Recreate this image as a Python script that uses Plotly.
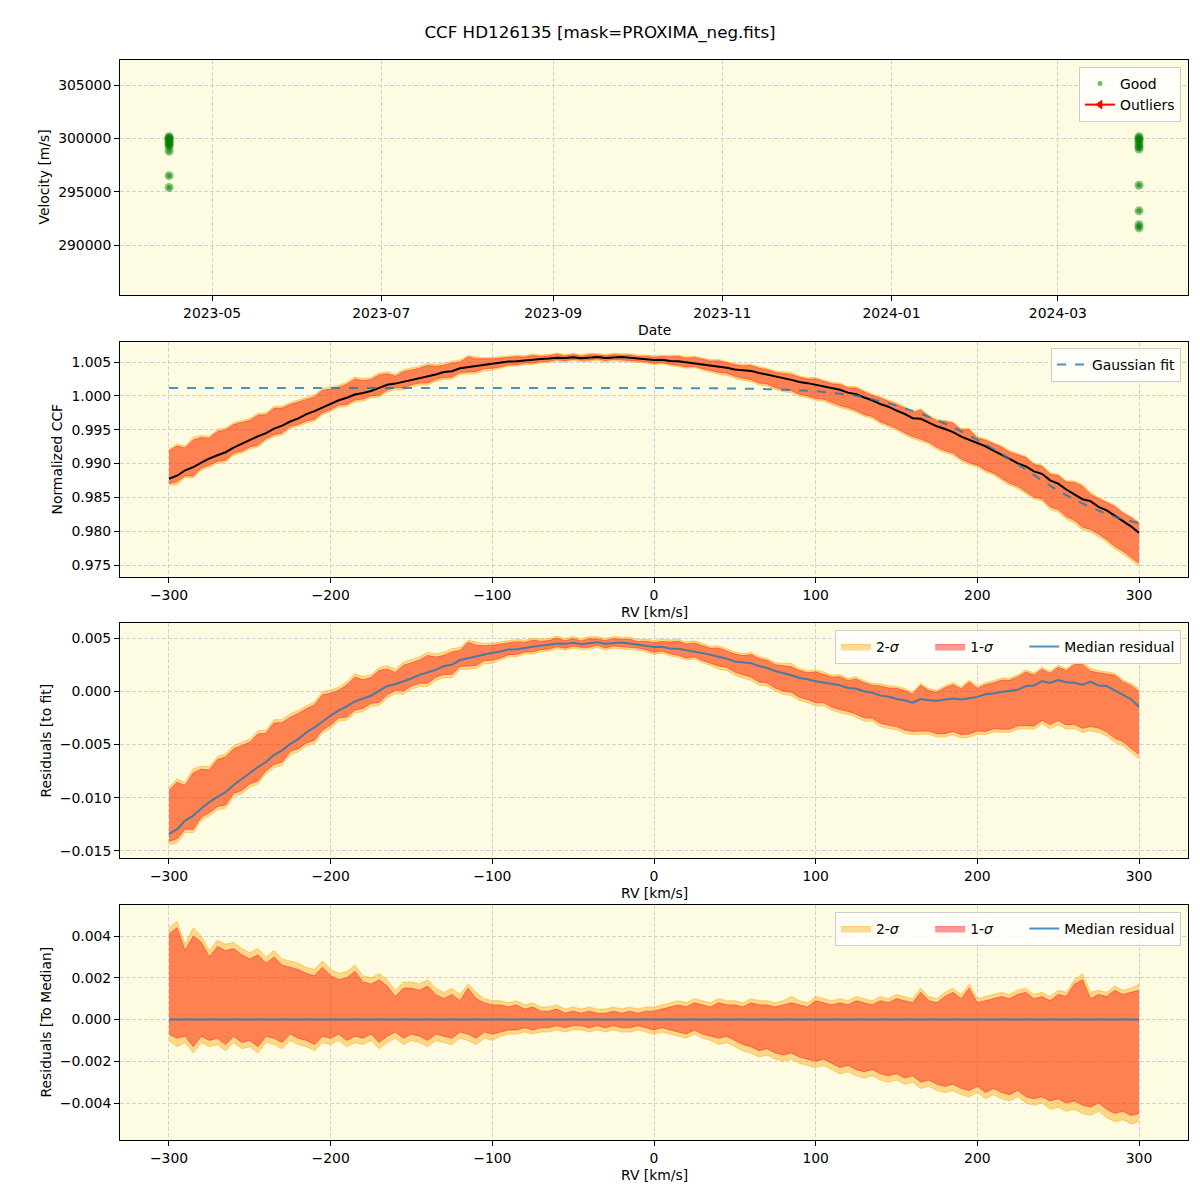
import numpy as np
import plotly.graph_objects as go

TITLE = "CCF HD126135 [mask=PROXIMA_neg.fits]"

# --- top panel: velocities of the individual exposures (two nights)
night1_date = "2023-04-15 12:00"
night1_rv = [300150, 300050, 299950, 299850, 299700, 299550, 299400, 299250, 298800, 296500, 295400]
night2_date = "2024-03-30 06:00"
night2_rv = [300150, 300000, 299850, 299650, 299400, 299200, 299000, 295600, 293200, 291900, 291600]

# --- CCF grid (km/s)
rv = np.arange(-300, 301, 5)

# gaussian fit to the median CCF
gauss_fit = np.array([
    1.00115, 1.00115, 1.00115, 1.00115, 1.00115, 1.00115, 1.00115, 1.00115, 1.00115, 1.00115,
    1.00115, 1.00115, 1.00115, 1.00115, 1.00115, 1.00115, 1.00115, 1.00115, 1.00115, 1.00115,
    1.00115, 1.00115, 1.00115, 1.00115, 1.00115, 1.00115, 1.00115, 1.00115, 1.00115, 1.00115,
    1.00115, 1.00115, 1.00115, 1.00115, 1.00115, 1.00115, 1.00115, 1.00115, 1.00115, 1.00115,
    1.00115, 1.00115, 1.00115, 1.00115, 1.00115, 1.00115, 1.00115, 1.00115, 1.00115, 1.00115,
    1.00115, 1.00115, 1.00115, 1.00115, 1.00115, 1.00115, 1.00115, 1.00115, 1.00115, 1.00115,
    1.00115, 1.00115, 1.00115, 1.00114, 1.00114, 1.00113, 1.00113, 1.00112, 1.00111, 1.00110,
    1.00109, 1.00107, 1.00105, 1.00102, 1.00099, 1.00095, 1.00091, 1.00086, 1.00081, 1.00075,
    1.00068, 1.00058, 1.00046, 1.00032, 1.00017, 1.00000, 0.99976, 0.99949, 0.99920, 0.99889,
    0.99855, 0.99818, 0.99778, 0.99735, 0.99689, 0.99640, 0.99588, 0.99533, 0.99475, 0.99414,
    0.99350, 0.99283, 0.99213, 0.99140, 0.99065, 0.98988, 0.98910, 0.98831, 0.98752, 0.98674,
    0.98597, 0.98532, 0.98470, 0.98411, 0.98356, 0.98305, 0.98258, 0.98216, 0.98179, 0.98147,
    0.98120,
])

# median CCF minus the gaussian fit
resid_fit = np.array([
    -0.01340, -0.01295, -0.01215, -0.01168, -0.01102, -0.01040, -0.00992, -0.00948, -0.00880, -0.00822,
    -0.00770, -0.00712, -0.00665, -0.00598, -0.00555, -0.00494, -0.00449, -0.00385, -0.00340, -0.00283,
    -0.00228, -0.00180, -0.00142, -0.00095, -0.00072, -0.00042, 0.00004, 0.00050, 0.00066, 0.00092,
    0.00120, 0.00154, 0.00176, 0.00201, 0.00237, 0.00249, 0.00293, 0.00310, 0.00332, 0.00348,
    0.00362, 0.00373, 0.00393, 0.00395, 0.00409, 0.00420, 0.00430, 0.00436, 0.00449, 0.00445,
    0.00455, 0.00442, 0.00454, 0.00461, 0.00446, 0.00455, 0.00458, 0.00448, 0.00436, 0.00430,
    0.00416, 0.00418, 0.00402, 0.00399, 0.00383, 0.00374, 0.00358, 0.00343, 0.00327, 0.00306,
    0.00280, 0.00275, 0.00264, 0.00237, 0.00218, 0.00190, 0.00171, 0.00150, 0.00124, 0.00113,
    0.00093, 0.00081, 0.00062, 0.00057, 0.00031, 0.00025, 0.00000, -0.00014, -0.00041, -0.00049,
    -0.00072, -0.00084, -0.00108, -0.00074, -0.00084, -0.00090, -0.00078, -0.00068, -0.00078, -0.00062,
    -0.00053, -0.00028, -0.00022, -0.00006, 0.00003, 0.00015, 0.00049, 0.00053, 0.00096, 0.00077,
    0.00105, 0.00084, 0.00080, 0.00062, 0.00088, 0.00054, 0.00049, 0.00010, -0.00032, -0.00075,
    -0.00145,
])

# percentile envelopes relative to the median, in units of 1e-4
hi2 = np.array([
    44, 47, 36, 44, 40, 33, 38, 36, 37, 34,
    32, 34, 30, 33, 29, 28, 27, 25, 24, 28,
    24, 22, 23, 26, 21, 20, 22, 19, 14, 18,
    18, 17, 19, 15, 13, 15, 12, 17, 13, 10,
    9, 9, 8, 9, 7, 8, 6, 6, 7, 5,
    6, 5, 6, 5, 5, 6, 5, 6, 5, 6,
    6, 7, 8, 9, 8, 10, 9, 8, 10, 9,
    9, 8, 10, 9, 9, 8, 9, 11, 9, 8,
    11, 10, 9, 10, 9, 11, 10, 9, 11, 10,
    12, 11, 10, 15, 11, 10, 13, 15, 12, 17,
    10, 11, 12, 13, 12, 14, 15, 12, 13, 11,
    14, 13, 19, 22, 13, 14, 13, 16, 14, 15,
    17,
]) * 1e-4
hi1 = np.array([
    41, 44, 33, 40, 37, 30, 35, 33, 34, 31,
    29, 31, 27, 30, 26, 25, 24, 22, 21, 25,
    21, 19, 20, 23, 18, 17, 19, 16, 11, 15,
    15, 14, 16, 12, 10, 12, 9, 15, 10, 8,
    7, 7, 6, 7, 5, 6, 4, 4, 5, 3,
    4, 3, 4, 3, 3, 4, 3, 4, 3, 4,
    4, 5, 6, 7, 6, 8, 7, 6, 8, 7,
    7, 6, 8, 7, 7, 6, 7, 8, 7, 6,
    9, 8, 7, 8, 7, 9, 8, 7, 9, 8,
    10, 9, 8, 13, 9, 8, 11, 13, 10, 15,
    8, 9, 10, 11, 10, 12, 13, 10, 11, 9,
    12, 11, 17, 19, 10, 12, 11, 14, 12, 13,
    14,
]) * 1e-4
lo1 = np.array([
    -7, -9, -8, -13, -8, -10, -9, -12, -8, -11,
    -10, -13, -8, -9, -11, -7, -9, -10, -12, -8,
    -9, -7, -10, -8, -9, -7, -11, -8, -6, -9,
    -7, -8, -10, -7, -8, -9, -6, -7, -9, -6,
    -7, -6, -5, -5, -4, -5, -4, -4, -3, -4,
    -3, -3, -4, -3, -4, -3, -4, -4, -3, -4,
    -5, -4, -5, -6, -7, -5, -7, -8, -9, -8,
    -10, -12, -13, -15, -14, -16, -17, -16, -18, -19,
    -20, -19, -21, -23, -22, -24, -25, -24, -26, -27,
    -26, -28, -27, -30, -29, -31, -32, -31, -33, -34,
    -32, -35, -33, -35, -36, -34, -37, -38, -37, -39,
    -38, -40, -39, -41, -42, -40, -43, -45, -44, -46,
    -45,
]) * 1e-4
lo2 = np.array([
    -10, -13, -11, -16, -11, -13, -12, -15, -11, -14,
    -13, -16, -11, -12, -14, -10, -12, -13, -15, -11,
    -12, -10, -13, -11, -12, -10, -14, -11, -9, -12,
    -10, -11, -13, -10, -11, -12, -9, -10, -12, -9,
    -10, -8, -7, -7, -6, -7, -6, -6, -5, -6,
    -5, -5, -6, -5, -6, -5, -6, -6, -5, -6,
    -7, -6, -7, -8, -9, -7, -9, -10, -12, -11,
    -13, -15, -16, -18, -17, -19, -20, -19, -21, -22,
    -23, -22, -24, -26, -25, -27, -28, -27, -29, -30,
    -29, -31, -30, -33, -32, -34, -35, -34, -36, -37,
    -35, -38, -36, -38, -39, -37, -40, -41, -40, -43,
    -42, -44, -43, -45, -46, -44, -47, -49, -48, -50,
    -49,
]) * 1e-4

median_ccf = gauss_fit + resid_fit

BG = "#fdfbe2"
GRID = "#d0d0d8"
FONT = "DejaVu Sans"
FS = 13.9
BLUE = "rgba(31,119,180,0.8)"

# the page adds an 8px body margin, so work in reference pixels and shift
OFF = 8
W = 1192


def px_x(p):
    return (p - OFF) / W


def px_y(p):
    return 1 - (p - OFF) / W


fig = go.Figure()

# panel 1
dates = [night1_date] * len(night1_rv) + [night2_date] * len(night2_rv)
good = night1_rv + night2_rv
fig.add_trace(go.Scatter(x=dates, y=good, mode="markers", showlegend=False,
                         marker=dict(size=9, color="rgba(0,128,0,0.45)", line=dict(width=0))))
fig.add_trace(go.Scatter(x=dates, y=good, mode="markers", name="Good",
                         marker=dict(size=5, color="rgba(0,128,0,0.55)", line=dict(width=0))))
fig.add_trace(go.Scatter(x=[None], y=[None], mode="lines+markers", name="Outliers",
                         line=dict(color="red", width=2),
                         marker=dict(symbol="triangle-left", size=9, color="red")))

PAD = "\u00a0" * 6


def add_bands(n, center, show):
    ax = dict(xaxis=f"x{n}", yaxis=f"y{n}", legend=f"legend{n}")
    fig.add_trace(go.Scatter(x=rv, y=center + lo2, mode="lines", showlegend=False,
                             line=dict(color="rgba(255,165,0,0.45)", width=1), **ax))
    fig.add_trace(go.Scatter(x=rv, y=center + hi2, mode="lines", fill="tonexty",
                             fillcolor="rgba(255,165,0,0.4)", name="2-<i>σ</i>" + PAD, showlegend=show,
                             line=dict(color="rgba(255,165,0,0.45)", width=1), **ax))
    fig.add_trace(go.Scatter(x=rv, y=center + lo1, mode="lines", showlegend=False,
                             line=dict(color="rgba(255,0,0,0.4)", width=1), **ax))
    fig.add_trace(go.Scatter(x=rv, y=center + hi1, mode="lines", fill="tonexty",
                             fillcolor="rgba(255,0,0,0.4)", name="1-<i>σ</i>" + PAD, showlegend=show,
                             line=dict(color="rgba(255,0,0,0.4)", width=1), **ax))


# panel 2
add_bands(2, median_ccf, False)
fig.add_trace(go.Scatter(x=rv, y=median_ccf, mode="lines", showlegend=False,
                         line=dict(color="black", width=2), xaxis="x2", yaxis="y2", legend="legend2"))
fig.add_trace(go.Scatter(x=rv, y=gauss_fit, mode="lines", name="Gaussian fit", line_shape="spline",
                         line=dict(color=BLUE, width=2, dash="dash"), xaxis="x2", yaxis="y2", legend="legend2"))

# panel 3
add_bands(3, resid_fit, True)
fig.add_trace(go.Scatter(x=rv, y=resid_fit, mode="lines", name="Median residual",
                         line=dict(color=BLUE, width=2), xaxis="x3", yaxis="y3", legend="legend3"))

# panel 4
zero = median_ccf - median_ccf
add_bands(4, zero, True)
fig.add_trace(go.Scatter(x=rv, y=zero, mode="lines", name="Median residual",
                         line=dict(color=BLUE, width=2), xaxis="x4", yaxis="y4", legend="legend4"))

axis_common = dict(showline=True, linecolor="black", linewidth=1, mirror=True,
                   ticks="outside", ticklen=5, tickwidth=1, tickcolor="black",
                   showgrid=True, gridcolor=GRID, griddash="4px,2px", gridwidth=1,
                   zeroline=False, automargin=False,
                   tickfont=dict(family=FONT, size=FS, color="black"))

doms = [(60, 295), (342, 577), (623, 858), (905, 1140)]
ydom = [[px_y(b), px_y(t)] for t, b in doms]
xdom = [px_x(120), px_x(1188)]

yranges = [[285312, 307344], [0.97323, 1.00796], [-0.01566, 0.00641], [-0.005772, 0.005485]]
yfmt = ["d", ".3f", ".3f", ".3f"]
ydtick = [5000, 0.005, 0.005, 0.002]

layout = dict(
    width=W, height=W, margin=dict(l=0, r=0, t=0, b=0),
    paper_bgcolor="white", plot_bgcolor=BG,
    font=dict(family=FONT, size=FS, color="black"),
    title=dict(text=TITLE, x=px_x(600), xanchor="center", y=px_y(32), yanchor="middle",
               font=dict(size=16.7, family=FONT, color="black")),
)

for i in range(4):
    sfx = "" if i == 0 else str(i + 1)
    xa = dict(axis_common, domain=xdom, anchor=f"y{sfx}")
    if i == 0:
        xa.update(type="date", range=["2023-03-28 19:00", "2024-04-16 22:00"],
                  dtick="M2", tick0="2023-05-01", tickformat="%Y-%m")
    else:
        xa.update(range=[-330.3, 330.3], dtick=100, tick0=0)
    ya = dict(axis_common, domain=ydom[i], anchor=f"x{sfx}", range=yranges[i],
              tickformat=yfmt[i], dtick=ydtick[i], tick0=0)
    layout[f"xaxis{sfx}"] = xa
    layout[f"yaxis{sfx}"] = ya

leg_common = dict(bgcolor="rgba(255,255,255,0.8)", bordercolor="#cccccc", borderwidth=1,
                  font=dict(family=FONT, size=FS, color="black"), xanchor="right", yanchor="top",
                  x=px_x(1181), traceorder="normal")
layout["legend"] = dict(leg_common, y=px_y(67))
layout["legend2"] = dict(leg_common, y=px_y(348))
layout["legend3"] = dict(leg_common, y=px_y(630), orientation="h")
layout["legend4"] = dict(leg_common, y=px_y(912), orientation="h")

# axis labels
ann = []
xlabels = [("Date", 330), ("RV [km/s]", 612), ("RV [km/s]", 893), ("RV [km/s]", 1175)]
for txt, ypx in xlabels:
    ann.append(dict(text=txt, xref="paper", yref="paper", x=px_x(654), y=px_y(ypx),
                    xanchor="center", yanchor="middle", showarrow=False, font=dict(size=FS)))
ylabels = [("Velocity [m/s]", 44), ("Normalized CCF", 56), ("Residuals [to fit]", 45),
           ("Residuals [To Median]", 45)]
for (txt, xpx), (t, b) in zip(ylabels, doms):
    ann.append(dict(text=txt, xref="paper", yref="paper", x=px_x(xpx), y=px_y((t + b) / 2),
                    xanchor="center", yanchor="middle", textangle=-90, showarrow=False,
                    font=dict(size=FS)))
layout["annotations"] = ann

fig.update_layout(**layout)
fig.write_html("out.html")
